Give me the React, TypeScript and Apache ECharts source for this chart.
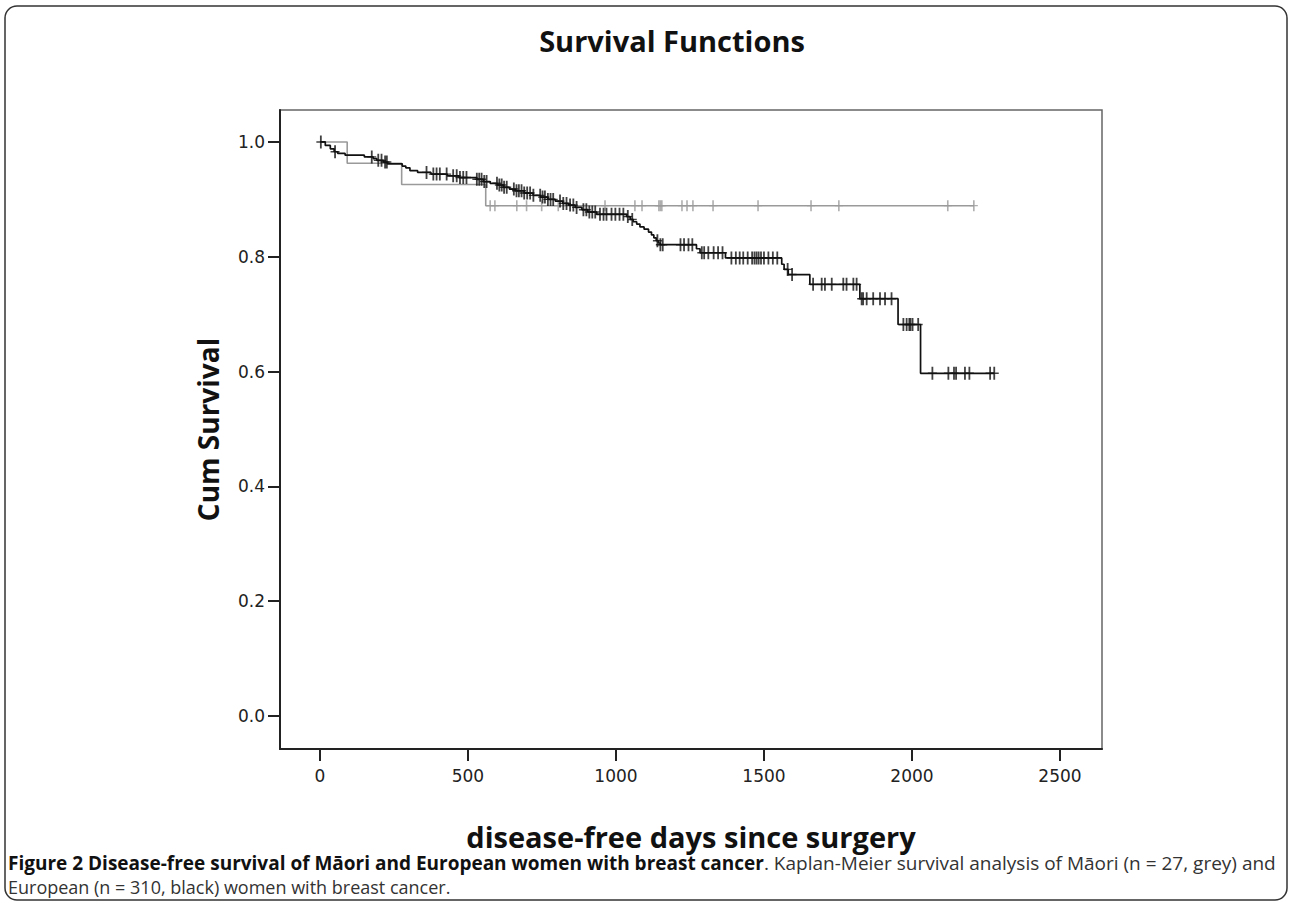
import React, { useEffect, useRef } from "react";
import * as echarts from "echarts";

const xTicks = [0, 500, 1000, 1500, 2000, 2500];
const yTicks = [0, 0.2, 0.4, 0.6, 0.8, 1.0];

// Māori (grey) Kaplan-Meier steps
const maoriTimes = [0, 92, 276, 560, 2210];
const maoriSurv = [1.0, 0.963, 0.926, 0.889, 0.889];
const maoriCensored = [575, 591, 665, 698, 749, 805, 963, 1064, 1088, 1145, 1150, 1155, 1223, 1240, 1260, 1328, 1480, 1659, 1753, 2121, 2209];

// European (black) Kaplan-Meier steps
const europeanTimes = [0, 18, 35, 48, 60, 85, 150, 180, 192, 215, 228, 278, 290, 304, 330, 375, 430, 470, 530, 552, 575, 600, 620, 640, 660, 690, 720, 745, 770, 795, 820, 840, 862, 885, 905, 935, 1036, 1048, 1058, 1070, 1081, 1095, 1110, 1120, 1128, 1136, 1143, 1150, 1272, 1284, 1370, 1560, 1568, 1582, 1655, 1824, 1953, 2029, 2278];
const europeanSurv = [1.0, 0.994, 0.988, 0.983, 0.98, 0.977, 0.974, 0.971, 0.968, 0.965, 0.962, 0.958, 0.955, 0.95, 0.947, 0.944, 0.941, 0.938, 0.935, 0.931, 0.928, 0.925, 0.921, 0.918, 0.915, 0.911, 0.907, 0.904, 0.9, 0.897, 0.893, 0.89, 0.886, 0.882, 0.878, 0.874, 0.87, 0.865, 0.861, 0.857, 0.852, 0.848, 0.843, 0.838, 0.833, 0.828, 0.824, 0.821, 0.814, 0.807, 0.798, 0.787, 0.778, 0.769, 0.752, 0.727, 0.682, 0.597, 0.597];
const europeanCensored = [3, 51, 175, 197, 208, 220, 226, 360, 383, 394, 405, 428, 450, 462, 473, 484, 495, 530, 538, 546, 555, 563, 598, 606, 614, 622, 631, 655, 664, 672, 681, 690, 700, 710, 721, 744, 752, 760, 770, 779, 788, 811, 822, 833, 845, 856, 867, 890, 900, 910, 920, 930, 946, 958, 968, 985, 998, 1012, 1025, 1040, 1055, 1140, 1150, 1158, 1218, 1230, 1245, 1258, 1290, 1298, 1312, 1330, 1345, 1360, 1390, 1405, 1418, 1430, 1445, 1460, 1468, 1475, 1482, 1490, 1500, 1515, 1530, 1545, 1580, 1595, 1666, 1695, 1706, 1729, 1768, 1779, 1802, 1813, 1830, 1835, 1847, 1869, 1892, 1909, 1931, 1971, 1982, 1991, 1995, 2002, 2021, 2069, 2123, 2142, 2149, 2179, 2194, 2264, 2278];

const titleText = "Survival Functions";
const xName = "disease-free days since surgery";
const yName = "Cum Survival";
const captionBold = "Figure 2 Disease-free survival of Māori and European women with breast cancer";
const captionRest = ". Kaplan-Meier survival analysis of Māori (n = 27, grey) and";
const captionLine2 = "European (n = 310, black) women with breast cancer.";

function levelAt(times: number[], surv: number[], t: number) {
  let v = surv[0];
  for (let i = 0; i < times.length; i++) {
    if (times[i] <= t) v = surv[i];
  }
  return v;
}

const PLUS = "path://M3.2,0 H4.8 V5.8 H8 V7.2 H4.8 V13 H3.2 V7.2 H0 V5.8 H3.2 Z";

export default function App() {
  const ref = useRef<HTMLDivElement>(null);
  useEffect(() => {
    const chart = echarts.init(ref.current!, null, { renderer: "svg" });
    const tickFont = { fontFamily: "DejaVu Sans", fontSize: 17, color: "#222" };
    const option: any = {
      animation: false,
      backgroundColor: "#fff",
      grid: { left: 280, right: 188, top: 110, bottom: 152, show: true, borderColor: "#666", borderWidth: 1.5, outerBoundsMode: "none" },
      xAxis: {
        type: "value",
        min: -135,
        max: 2642,
        axisLine: { show: true, onZero: false, lineStyle: { color: "#222", width: 2 } },
        axisTick: { show: true, length: 12, customValues: xTicks, lineStyle: { color: "#222", width: 2 } },
        axisLabel: { customValues: xTicks, margin: 18, formatter: (v: number) => String(v), ...tickFont },
        splitLine: { show: false },
        name: xName,
        nameLocation: "middle",
        nameGap: 72,
        nameTextStyle: { fontFamily: "Open Sans", fontWeight: "bold", fontSize: 29, lineHeight: 30, color: "#111" },
      },
      yAxis: {
        type: "value",
        min: -0.0575,
        max: 1.0557,
        axisLine: { show: true, onZero: false, lineStyle: { color: "#222", width: 2 } },
        axisTick: { show: true, length: 12, customValues: yTicks, lineStyle: { color: "#222", width: 2 } },
        axisLabel: { customValues: yTicks, margin: 15, formatter: (v: number) => v.toFixed(1), ...tickFont },
        splitLine: { show: false },
        name: yName,
        nameLocation: "middle",
        nameRotate: 90,
        nameGap: 58,
        nameTextStyle: { fontFamily: "Open Sans", fontWeight: "bold", fontSize: 28, color: "#111" },
      },
      graphic: [
        { type: "rect", shape: { x: 5, y: 6, width: 1282, height: 894, r: 12 }, style: { fill: "none", stroke: "#333", lineWidth: 1.5 }, silent: true },
        { type: "text", x: 672, y: 40, style: { text: titleText, font: "bold 29px 'Open Sans'", fill: "#111", align: "center", verticalAlign: "middle", textAlign: "center", textVerticalAlign: "middle" } },
        {
          type: "text",
          x: 8,
          y: 863,
          style: {
            text: "{b|" + captionBold + "}{r|" + captionRest + "}",
            align: "left",
            verticalAlign: "middle",
            textAlign: "left",
            textVerticalAlign: "middle",
            rich: {
              b: { fontFamily: "Open Sans", fontWeight: "bold", fontSize: 19, lineHeight: 20, fill: "#111", color: "#111" },
              r: { fontFamily: "Open Sans", fontWeight: "normal", fontSize: 19, lineHeight: 20, fill: "#333", color: "#333" },
            },
          },
        },
        { type: "text", x: 8, y: 887, style: { text: captionLine2, fontFamily: "Open Sans", fontSize: 18, lineHeight: 20, fill: "#333", align: "left", verticalAlign: "middle", textAlign: "left", textVerticalAlign: "middle" } },
      ],
      series: [
        {
          type: "line",
          name: "Māori",
          step: "end",
          showSymbol: false,
          data: maoriTimes.map((t, i) => [t, maoriSurv[i]]),
          lineStyle: { color: "#9a9a9a", width: 1.6 },
          z: 2,
        },
        {
          type: "scatter",
          name: "Māori censored",
          symbol: PLUS,
          symbolSize: [8, 11],
          data: maoriCensored.map((t) => [t, levelAt(maoriTimes, maoriSurv, t)]),
          itemStyle: { color: "#9a9a9a" },
          z: 2,
        },
        {
          type: "line",
          name: "European",
          step: "end",
          showSymbol: false,
          data: europeanTimes.map((t, i) => [t, europeanSurv[i]]),
          lineStyle: { color: "#111", width: 1.7 },
          z: 3,
        },
        {
          type: "scatter",
          name: "European censored",
          symbol: PLUS,
          symbolSize: [9, 13],
          data: europeanCensored.map((t) => [t, levelAt(europeanTimes, europeanSurv, t)]),
          itemStyle: { color: "#111" },
          z: 3,
        },
      ],
    };
    chart.setOption(option);
    return () => chart.dispose();
  }, []);
  return <div ref={ref} style={{ position: "absolute", left: 0, top: 0, width: 1290, height: 901, background: "#fff" }} />;
}
